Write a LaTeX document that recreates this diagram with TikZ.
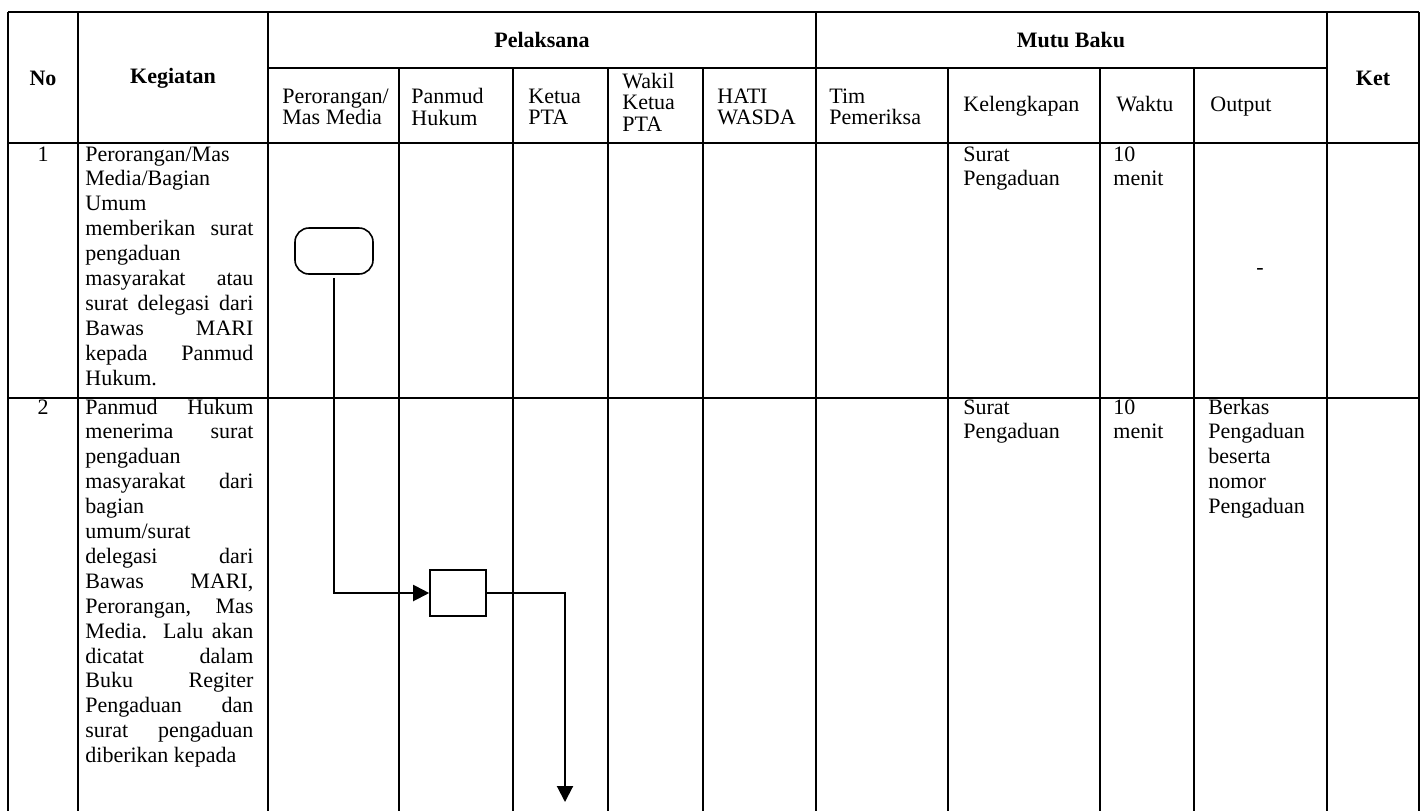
\documentclass[tikz,border=0pt]{standalone}
\usepackage{fontspec}
\setmainfont{Liberation Serif}
\usetikzlibrary{arrows.meta}
\newcommand{\mkJ}[1]{\makebox[84pt][s]{#1}}
\newcommand{\mkL}[1]{\makebox[84pt][l]{#1}}
\newcommand{\bodytxt}[2]{\parbox[t]{#1}{\fontsize{11}{12.45}\selectfont\raggedright #2}}
\begin{document}
\begin{tikzpicture}[x=0.5pt,y=-0.5pt,
 tbl/.style={line width=1.15pt},
 hdr/.style={font=\fontsize{11}{12.45}\selectfont\bfseries, inner sep=0pt},
 sub/.style={anchor=west, align=left, inner sep=0pt, font=\fontsize{11}{10.7}\selectfont},
 sub1/.style={anchor=base west, inner sep=0pt, font=\fontsize{11}{10.7}\selectfont},
 body/.style={anchor=base west, inner sep=0pt},
 num/.style={anchor=base, inner sep=0pt, font=\fontsize{11}{12.45}\selectfont},
 term/.style={draw, line width=0.8pt, rounded corners=7pt, minimum width=39pt, minimum height=23pt, inner sep=0pt},
 proc/.style={draw, line width=0.8pt, minimum width=28pt, minimum height=23pt, inner sep=0pt},
 conn/.style={line width=1pt},
 arr/.style={-{Triangle[length=8pt,width=8pt]}}
]
\useasboundingbox (0,0) rectangle (1424,811);
\clip (0,0) rectangle (1424,811);
% table grid
\draw[tbl] (8,12) -- (1419,12);
\draw[tbl] (268,68) -- (1327,68);
\draw[tbl] (8,143) -- (1419,143);
\draw[tbl] (8,398) -- (1419,398);
\foreach \x in {8,78,268,816,1327,1419} \draw[tbl] (\x,12) -- (\x,811);
\foreach \x in {399,513,608,703,948,1100,1194} \draw[tbl] (\x,68) -- (\x,811);
% header
\node[hdr] (hno) at (43,78) {No};
\node[hdr] (hkeg) at (173,78) {Kegiatan};
\node[hdr] (hpel) at (542,40) {Pelaksana};
\node[hdr] (hmutu) at (1071,40) {Mutu Baku};
\node[hdr] (hket) at (1373,78) {Ket};
\node[sub] (s1) at (282,107) {Perorangan/\\Mas Media};
\node[sub] (s2) at (411,107) {Panmud\\Hukum};
\node[sub] (s3) at (528,107) {Ketua\\PTA};
\node[sub] (s4) at (622,102) {Wakil\\Ketua\\PTA};
\node[sub] (s5) at (717,107) {HATI\\WASDA};
\node[sub] (s6) at (829,107) {Tim\\Pemeriksa};
\node[sub1] (s7) at (963,111) {Kelengkapan};
\node[sub1] (s8) at (1116,111) {Waktu};
\node[sub1] (s9) at (1210,111) {Output};
% row 1
\node[num] (n1) at (43,161) {1};
\node[body] (k1) at (85,161) {\bodytxt{84pt}{\mkL{Perorangan/Mas}\\\mkL{Media/Bagian}\\\mkL{Umum}\\\mkJ{memberikan surat}\\\mkL{pengaduan}\\\mkJ{masyarakat atau}\\\mkJ{surat delegasi dari}\\\mkJ{Bawas MARI}\\\mkJ{kepada Panmud}\\\mkL{Hukum.}}};
\node[body] (kel1) at (963,161) {\bodytxt{70pt}{Surat\\Pengaduan}};
\node[body] (w1) at (1113,161) {\bodytxt{40pt}{10\\menit}};
\node[num, anchor=center] (o1) at (1260,271) {-};
% row 2
\node[num] (n2) at (43,414) {2};
\node[body] (k2) at (85,414) {\bodytxt{84pt}{\mkJ{Panmud Hukum}\\\mkJ{menerima surat}\\\mkL{pengaduan}\\\mkJ{masyarakat dari}\\\mkL{bagian}\\\mkL{umum/surat}\\\mkJ{delegasi dari}\\\mkJ{Bawas MARI,}\\\mkJ{Perorangan, Mas}\\\mkJ{Media. Lalu akan}\\\mkJ{dicatat dalam}\\\mkJ{Buku Regiter}\\\mkJ{Pengaduan dan}\\\mkJ{surat pengaduan}\\\mkL{diberikan kepada}}};
\node[body] (kel2) at (963,414) {\bodytxt{70pt}{Surat\\Pengaduan}};
\node[body] (w2) at (1113,414) {\bodytxt{40pt}{10\\menit}};
\node[body] (o2) at (1208,414) {\bodytxt{60pt}{Berkas\\Pengaduan\\beserta\\nomor\\Pengaduan}};
% flowchart
\node[term] (t) at (334,251) {};
\node[proc] (p) at (458,593) {};
\coordinate (e) at (565,802);
\draw[conn, arr, shorten <=1.5pt] (t) |- (p);
\draw[conn, arr] (p.east) -| (e);
\end{tikzpicture}
\end{document}
